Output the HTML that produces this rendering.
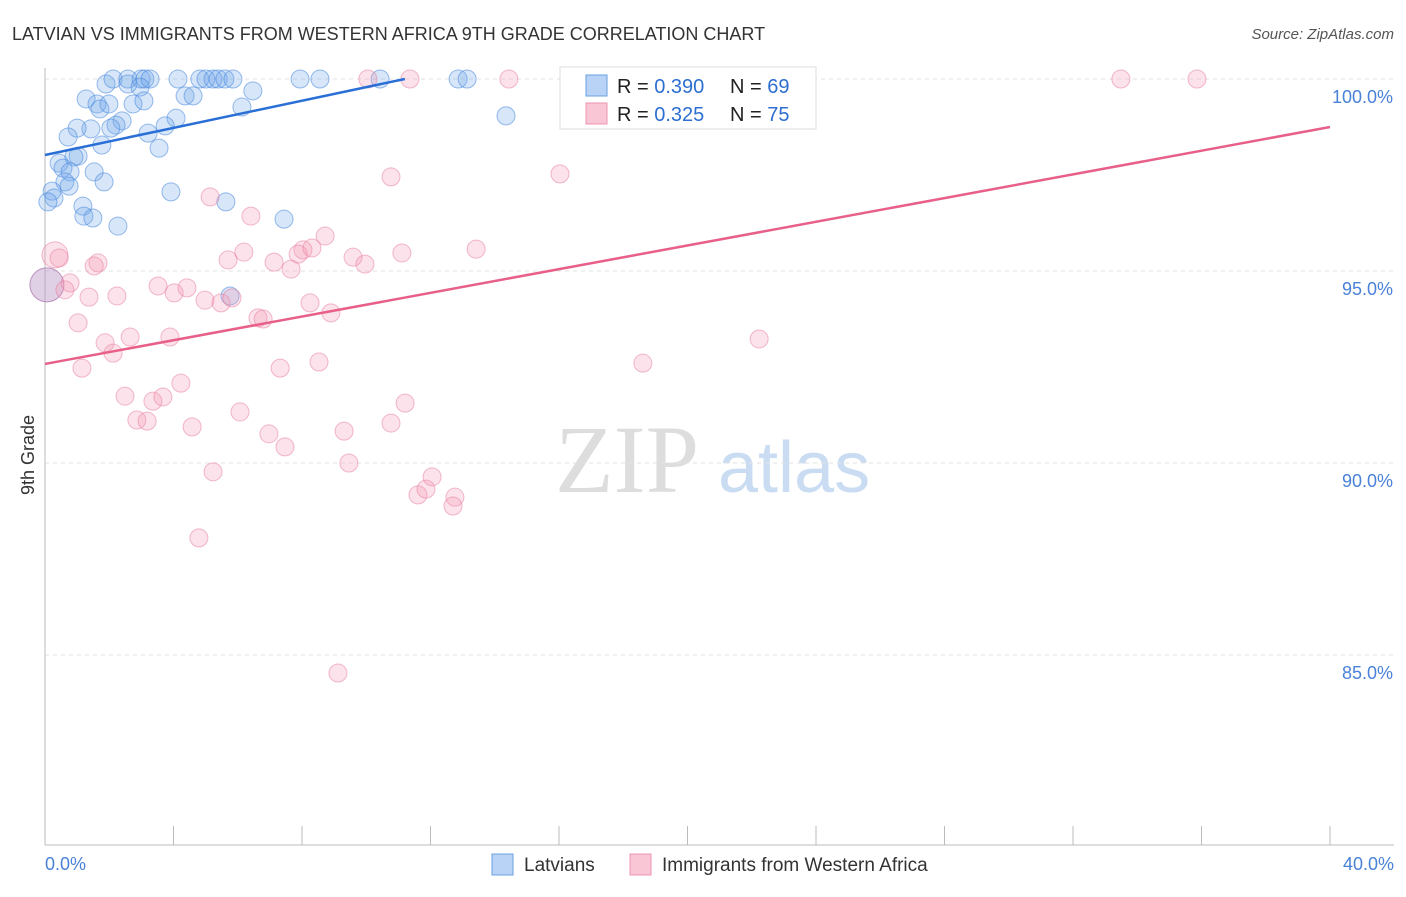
<!DOCTYPE html>
<html><head><meta charset="utf-8"><style>
body{margin:0;background:#fff;font-family:"Liberation Sans",sans-serif;}
svg text{font-family:"Liberation Sans",sans-serif;}
</style></head><body>
<svg id="chart" width="1406" height="892" xmlns="http://www.w3.org/2000/svg">
<text x="12" y="40" font-size="18" fill="#333">LATVIAN VS IMMIGRANTS FROM WESTERN AFRICA 9TH GRADE CORRELATION CHART</text>
<text x="1394" y="39" font-size="15" fill="#555" text-anchor="end" font-style="italic">Source: ZipAtlas.com</text>
<text x="34" y="455" font-size="18" fill="#333" transform="rotate(-90 34 455)" text-anchor="middle">9th Grade</text>
<g>
<text x="555" y="492" font-size="96" fill="#ddd" font-family="Liberation Serif" style="font-family:'Liberation Serif',serif">ZIP</text>
<text x="718" y="492" font-size="72" fill="#c9dcf2">atlas</text>
</g>
<g id="grid"></g>
<g id="axes"></g>
<g id="marks"></g>
<g>
<rect x="560" y="67" width="256" height="62" fill="#fff" stroke="#ddd"/>
<rect x="586" y="75" width="21" height="21" fill="#b8d3f5" stroke="#6aa0e0"/>
<rect x="586" y="103" width="21" height="21" fill="#f8c6d5" stroke="#ec94b0"/>
<text x="617" y="93" font-size="20" fill="#222">R = <tspan fill="#2d6fd0">0.390</tspan></text>
<text x="730" y="93" font-size="20" fill="#222">N = <tspan fill="#2d6fd0">69</tspan></text>
<text x="617" y="121" font-size="20" fill="#222">R = <tspan fill="#2d6fd0"> 0.325</tspan></text>
<text x="730" y="121" font-size="20" fill="#222">N = <tspan fill="#2d6fd0">75</tspan></text>
</g>
<g>
<rect x="492" y="854" width="21" height="21" fill="#b8d3f5" stroke="#6aa0e0"/>
<text x="524" y="871" font-size="19" fill="#333">Latvians</text>
<rect x="630" y="854" width="21" height="21" fill="#f8c6d5" stroke="#ec94b0"/>
<text x="662" y="871" font-size="19" fill="#333">Immigrants from Western Africa</text>
</g>
</svg>
<script>
const yTicks=[100,95,90,85];
const xTickVals=[0,4,8,12,16,20,24,28,32,36,40];
const blueX=[1.90,2.12,2.58,2.58,2.99,3.11,3.27,2.96,4.14,4.82,5.01,5.23,5.39,5.60,5.85,7.94,8.56,10.43,12.86,13.14,1.28,1.62,1.71,1.99,2.74,3.08,4.36,4.61,6.47,6.13,4.08,3.74,3.21,3.55,2.40,2.21,2.05,1.43,1.00,0.72,1.77,1.03,0.90,0.44,0.56,0.78,1.53,0.62,0.75,1.84,0.22,0.28,0.09,1.18,1.21,1.49,2.27,3.92,5.63,7.44,5.76,14.35,0.06];
const blueY=[99.87,100,100,99.87,100,100,100,99.79,100,100,100,100,100,100,100,100,100,100,100,100,99.48,99.35,99.22,99.35,99.35,99.43,99.56,99.56,99.69,99.27,98.98,98.78,98.59,98.20,98.91,98.80,98.72,98.70,98.72,98.49,98.28,97.99,97.97,97.81,97.68,97.58,97.58,97.32,97.21,97.32,97.08,96.90,96.80,96.69,96.43,96.38,96.17,97.06,96.80,96.35,94.35,99.04,94.64];
const blueBig=[62];
const pinkX=[10.05,11.36,14.44,16.65,33.49,35.86,10.77,16.03,5.14,6.41,0.31,0.44,1.65,1.53,5.70,6.19,7.13,7.66,8.03,7.88,8.31,8.72,9.59,9.96,11.11,13.42,0.06,0.78,0.62,1.37,2.24,3.52,4.02,4.42,4.98,5.48,5.82,6.63,6.79,8.25,8.90,1.03,1.87,2.65,3.89,2.12,1.15,7.32,8.53,18.61,22.23,2.49,3.36,3.67,4.23,2.86,3.18,4.58,6.07,6.97,7.47,9.31,10.77,11.21,5.23,9.46,11.61,11.86,12.05,12.76,12.70,4.79,9.12];
const pinkY=[100,100,100,100,100,100,97.45,97.53,96.93,96.43,95.42,95.34,95.21,95.13,95.29,95.49,95.23,95.05,95.55,95.44,95.60,95.91,95.36,95.18,95.47,95.57,94.64,94.69,94.51,94.32,94.35,94.61,94.43,94.56,94.24,94.17,94.30,93.78,93.75,94.17,93.91,93.65,93.13,93.28,93.28,92.86,92.47,92.47,92.63,92.60,93.23,91.74,91.61,91.72,92.08,91.12,91.09,90.94,91.33,90.76,90.42,90.83,91.04,91.56,89.77,90.00,89.17,89.32,89.64,89.11,88.88,88.05,84.53];
const pinkBig=[10,26];
const blueTrend=[[0,98.02],[11.2,100]];
const pinkTrend=[[0,92.58],[40,98.75]];
const NS="http://www.w3.org/2000/svg";
const sx=v=>45+v*32.125;
const sy=v=>79+(100-v)*38.4;
function mk(tag,attrs,parent){const e=document.createElementNS(NS,tag);for(const k in attrs)e.setAttribute(k,attrs[k]);parent.appendChild(e);return e;}
const grid=document.getElementById('grid'),axes=document.getElementById('axes'),marks=document.getElementById('marks');
yTicks.forEach(t=>{
 const l=mk('line',{x1:45,x2:1394,y1:sy(t),y2:sy(t),stroke:'#e2e2e2','stroke-dasharray':'4,4'},grid);
 
 
 const tx=mk('text',{x:1393,y:sy(t)+24,'font-size':18,fill:'#4a82d8','text-anchor':'end'},axes);
 tx.textContent=t.toFixed(1)+'%';
 
 
});
const ax=mk('line',{x1:45,x2:45,y1:68,y2:845,stroke:'#bbb'},axes);


const bx=mk('line',{x1:45,x2:1394,y1:845,y2:845,stroke:'#bbb'},axes);


xTickVals.forEach(t=>{
 const l=mk('line',{x1:sx(t),x2:sx(t),y1:826,y2:845,stroke:'#bbb'},axes);
 
 
});
[[0,'start'],[40,'end']].forEach(([t,a])=>{
 const tx=mk('text',{x:t==0?45:1394,y:870,'font-size':18,fill:'#4a82d8','text-anchor':a},axes);
 tx.textContent=t.toFixed(1)+'%';
 
 
});
function dots(X,Y,big,bigR,fill,stroke,name){
 X.forEach((x,i)=>{
  const r=big.includes(i)?bigR[big.indexOf(i)]:9;
  const c=mk('circle',{cx:sx(x),cy:sy(Y[i]),r:r,fill:fill,stroke:stroke,'stroke-width':1},marks);
  
  
 });
}
dots(blueX,blueY,blueBig,[17],'rgba(110,165,235,0.28)','rgba(70,135,220,0.55)','latvian-point');
dots(pinkX,pinkY,pinkBig,[13,17],'rgba(245,150,180,0.28)','rgba(230,120,155,0.5)','immigrant-point');
function trend(T,col,name){
 const l=mk('line',{x1:sx(T[0][0]),y1:sy(T[0][1]),x2:sx(T[1][0]),y2:sy(T[1][1]),stroke:col,'stroke-width':2.5},marks);
 
 
}
trend(blueTrend,'#2a6fd6','latvian-trendline');
trend(pinkTrend,'#e8608a','immigrant-trendline');
</script>
</body></html>
